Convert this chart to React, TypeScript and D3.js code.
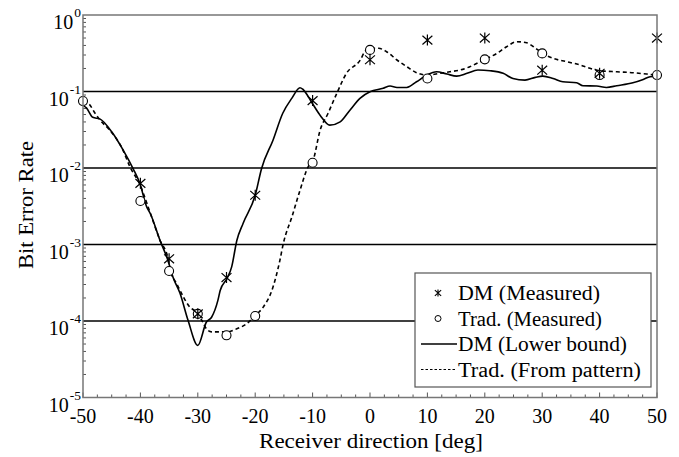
import React from "react";
import * as d3 from "d3";

// Receiver direction [deg] vs bit error rate
const dmBoundDeg = [-50, -49.4, -48.3, -47.0, -45.0, -43.0, -41.3, -40.1, -38.9, -38.3, -36.6, -35.2, -34.3, -33.1, -31.7, -30.0, -28.5, -27.6, -26.5, -26.1, -24.9, -24.1, -23.2, -22.1, -20.0, -18.9, -16.9, -15.2, -13.6, -12.2, -11.7, -10.2, -8.7, -7.0, -5.2, -3.5, -1.7, 0, 2.3, 3.5, 4.7, 6.4, 8.1, 9.9, 11.6, 13.4, 15.1, 16.9, 18.8, 20.9, 23.2, 24.9, 27.0, 28.8, 30.1, 31.9, 33.6, 36.0, 37.1, 39.5, 41.2, 43.0, 45.8, 47.6, 48.8, 50];
const dmBoundBer = [0.066, 0.061, 0.046, 0.0435, 0.0297, 0.0171, 0.0099, 0.0063, 0.0031, 0.00256, 0.00114, 6.2e-4, 3.7e-4, 2.3e-4, 1.02e-4, 4.8e-5, 9.7e-5, 1.12e-4, 1.86e-4, 2.5e-4, 3.6e-4, 5.1e-4, 1.13e-3, 1.9e-3, 4.4e-3, 0.0098, 0.0231, 0.052, 0.082, 0.112, 0.107, 0.073, 0.049, 0.0363, 0.0401, 0.057, 0.082, 0.099, 0.11, 0.118, 0.113, 0.113, 0.134, 0.164, 0.181, 0.169, 0.159, 0.173, 0.191, 0.187, 0.173, 0.148, 0.141, 0.153, 0.159, 0.148, 0.134, 0.13, 0.119, 0.118, 0.113, 0.119, 0.13, 0.144, 0.156, 0.159];

const tradPatternDeg = [-50, -49.1, -47.9, -47.0, -45.3, -43.2, -41.8, -40.1, -38.3, -36.6, -35.2, -34.8, -33.7, -32.5, -31.4, -30.2, -29.3, -28.5, -27.6, -26.1, -25.0, -23.2, -21.5, -20.0, -18.6, -17.1, -15.7, -15.1, -13.6, -12.2, -10.8, -9.9, -8.7, -7.3, -5.8, -4.1, -1.7, -0.9, 0, 1.5, 2.9, 4.7, 6.4, 8.1, 9.9, 12.2, 13.9, 15.7, 17.4, 19.2, 20.0, 22.1, 23.8, 25.6, 27.3, 28.5, 29.9, 31.9, 34.3, 36.6, 38.3, 40.1, 43.0, 45.9, 48.2, 50];
const tradPatternBer = [0.073, 0.07, 0.052, 0.042, 0.031, 0.0182, 0.0103, 0.0061, 0.0026, 0.00114, 6.6e-4, 4.6e-4, 3.1e-4, 2.06e-4, 1.52e-4, 1.31e-4, 1.02e-4, 7.9e-5, 7.2e-5, 7.2e-5, 7.2e-5, 7.9e-5, 9.2e-5, 1.18e-4, 1.52e-4, 2.5e-4, 6.2e-4, 1.03e-3, 2.3e-3, 5.1e-3, 0.0103, 0.0127, 0.031, 0.052, 0.094, 0.173, 0.258, 0.331, 0.367, 0.367, 0.331, 0.258, 0.211, 0.176, 0.164, 0.173, 0.181, 0.191, 0.211, 0.245, 0.263, 0.315, 0.385, 0.447, 0.434, 0.385, 0.321, 0.271, 0.245, 0.222, 0.201, 0.187, 0.181, 0.176, 0.169, 0.164];

const dmMeasDeg = [-40, -35, -30, -25, -20, -10, 0, 10, 20, 30, 40, 50];
const dmMeasBer = [0.0063, 6.5e-4, 1.24e-4, 3.7e-4, 4.4e-3, 0.076, 0.26, 0.47, 0.5, 0.19, 0.173, 0.5];

const tradMeasDeg = [-50, -40, -35, -30, -25, -20, -10, 0, 10, 20, 30, 40, 50];
const tradMeasBer = [0.075, 0.0037, 4.5e-4, 1.24e-4, 6.5e-5, 1.16e-4, 0.0117, 0.35, 0.148, 0.263, 0.315, 0.164, 0.164];

const xTicks = [-50, -40, -30, -20, -10, 0, 10, 20, 30, 40, 50];
const yExponents = [0, -1, -2, -3, -4, -5];
const legendLabels = ["DM (Measured)", "Trad. (Measured)", "DM (Lower bound)", "Trad. (From pattern)"];
const legendWidths = [142, 144, 169, 183];

const W = 679;
const H = 457;
const FONT = "Liberation Serif, DejaVu Serif, Times New Roman, serif";
const txt = { fontFamily: FONT };

const x = d3.scaleLinear().domain([-50, 50]).range([83, 657]);
const y = d3.scaleLog().domain([1e-5, 1]).range([397.5, 15]);

const line = d3
  .line<[number, number]>()
  .x((d) => x(d[0]))
  .y((d) => y(d[1]))
  .curve(d3.curveMonotoneX);

const asterisk = (s: number) =>
  `M0,${-s}V${s}M${-s * 0.9},${-s * 0.8}L${s * 0.9},${s * 0.8}M${-s * 0.9},${s * 0.8}L${s * 0.9},${-s * 0.8}`;

export default function App() {
  const [x0, x1] = x.range();
  const [yb, yt] = y.range();
  const dmPts = dmBoundDeg.map((d, i) => [d, dmBoundBer[i]] as [number, number]);
  const trPts = tradPatternDeg.map((d, i) => [d, tradPatternBer[i]] as [number, number]);

  const xMinor = d3.range(-50, 50.01, 2.5);
  const yMinor: number[] = [];
  for (let e = -5; e < 0; e++) for (let m = 2; m <= 9; m++) yMinor.push(m * Math.pow(10, e));

  const lgX = 415;
  const lgY = 273;
  const lgW = 236;
  const lgH = 114;
  const rowY = (i: number) => lgY + 20 + i * 25.5;

  return (
    <svg
      width={W}
      height={H}
      style={{ position: "absolute", left: 0, top: 0, background: "#fff", fontFamily: FONT }}
    >
      {/* decade grid lines */}
      {yExponents.slice(1, -1).map((e) => (
        <line key={e} x1={x0} x2={x1} y1={y(Math.pow(10, e))} y2={y(Math.pow(10, e))} stroke="#000" strokeWidth={1.4} />
      ))}

      {/* minor ticks */}
      {xMinor.map((v) => (
        <line key={"xm" + v} x1={x(v)} x2={x(v)} y1={yb} y2={yb - (v % 10 === 0 ? 5 : 3)} stroke="#555" strokeWidth={1} />
      ))}
      {yMinor.map((v) => (
        <line key={"ym" + v} x1={x0} x2={x0 + 3} y1={y(v)} y2={y(v)} stroke="#555" strokeWidth={1} />
      ))}

      {/* curves */}
      <path d={line(dmPts) ?? ""} fill="none" stroke="#000" strokeWidth={1.6} strokeLinejoin="round" />
      <path d={line(trPts) ?? ""} fill="none" stroke="#000" strokeWidth={1.6} strokeDasharray="4,3" />

      {/* measured points */}
      {tradMeasDeg.map((d, i) => (
        <circle key={"t" + i} cx={x(d)} cy={y(tradMeasBer[i])} r={4.5} fill="#fff" stroke="#000" strokeWidth={1.1} />
      ))}
      {dmMeasDeg.map((d, i) => (
        <path key={"d" + i} d={asterisk(5.5)} transform={`translate(${x(d)},${y(dmMeasBer[i])})`} stroke="#000" strokeWidth={1.2} fill="none" />
      ))}

      {/* frame */}
      <rect x={x0} y={yt} width={x1 - x0} height={yb - yt} fill="none" stroke="#777" strokeWidth={1.5} />

      {/* y tick labels */}
      {yExponents.map((e) => {
        const yy = y(Math.pow(10, e));
        return (
          <text key={"yl" + e} x={81} y={yy + 14} fontSize={20} textAnchor="end" fill="#000" style={txt}>
            10
            <tspan fontSize={13.5} dx={1} dy={-12}>
              {e}
            </tspan>
          </text>
        );
      })}

      {/* x tick labels */}
      {xTicks.map((v) => (
        <text key={"xl" + v} x={x(v)} y={423} fontSize={20} textAnchor="middle" fill="#000" style={txt}>
          {v}
        </text>
      ))}

      {/* axis titles */}
      <text x={371} y={448} fontSize={21.5} textAnchor="middle" fill="#000" style={txt} textLength={224} lengthAdjust="spacingAndGlyphs">
        Receiver direction [deg]
      </text>
      <text transform="translate(33,205) rotate(-90)" fontSize={21.5} textAnchor="middle" fill="#000" style={txt} textLength={128} lengthAdjust="spacingAndGlyphs">
        Bit Error Rate
      </text>

      {/* legend */}
      <rect x={lgX} y={lgY} width={lgW} height={lgH} fill="#fff" stroke="#555" strokeWidth={1.2} />
      <path d={asterisk(3.5)} transform={`translate(438,${rowY(0)})`} stroke="#000" strokeWidth={1.1} fill="none" />
      <circle cx={438} cy={rowY(1)} r={3} fill="#fff" stroke="#000" strokeWidth={1} />
      <line x1={421} x2={457} y1={rowY(2)} y2={rowY(2)} stroke="#000" strokeWidth={1.5} />
      <line x1={421} x2={457} y1={rowY(3)} y2={rowY(3)} stroke="#000" strokeWidth={1.2} strokeDasharray="2.5,2" />
      {legendLabels.map((t, i) => (
        <text key={t} x={458} y={rowY(i) + 7} fontSize={20.5} fill="#000" style={txt} textLength={legendWidths[i]} lengthAdjust="spacingAndGlyphs">
          {t}
        </text>
      ))}
    </svg>
  );
}
